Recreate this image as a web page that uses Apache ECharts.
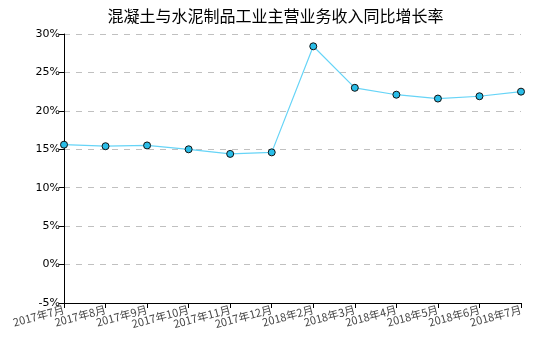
<!DOCTYPE html>
<html>
<head>
<meta charset="utf-8">
<script src="https://cdn.jsdelivr.net/npm/echarts@6/dist/echarts.min.js"></script>
<style>
  html, body { margin: 0; padding: 0; background: #fff; }
  #main { width: 551px; height: 351px; }
</style>
</head>
<body>
<div id="main"></div>
<script>
// 月份
var months = ['2017年7月', '2017年8月', '2017年9月', '2017年10月', '2017年11月', '2017年12月',
    '2018年2月', '2018年3月', '2018年4月', '2018年5月', '2018年6月', '2018年7月'];
// 同比增长率 (%)
var growth = [15.6, 15.4, 15.5, 15.0, 14.4, 14.6, 28.4, 23.0, 22.1, 21.6, 21.9, 22.5];
var yTicks = { min: -5, max: 30, interval: 5 };

var chart = echarts.init(document.getElementById('main'));
var option = {
    backgroundColor: '#fff',
    animation: false,
    title: {
        text: '混凝土与水泥制品工业主营业务收入同比增长率',
        left: 'center',
        top: 3,
        textStyle: { fontSize: 16, fontWeight: 'normal', color: '#000', fontFamily: 'Noto Sans CJK SC' }
    },
    grid: { left: 64, right: 30, top: 34, bottom: 48 },
    xAxis: {
        type: 'category',
        boundaryGap: false,
        data: months,
        axisLine: { onZero: false, lineStyle: { color: '#000', width: 1 } },
        axisTick: { show: true, length: 5, lineStyle: { color: '#000' } },
        axisLabel: {
            rotate: 15,
            interval: 0,
            margin: 6,
            fontSize: 11,
            color: '#444',
            fontFamily: 'Noto Sans CJK SC'
        },
        splitLine: { show: false }
    },
    yAxis: {
        type: 'value',
        min: yTicks.min,
        max: yTicks.max,
        interval: yTicks.interval,
        axisLine: { show: true, lineStyle: { color: '#000', width: 1 } },
        axisTick: { show: true, length: 5, lineStyle: { color: '#000' } },
        axisLabel: {
            formatter: '{value}%',
            margin: 4,
            fontSize: 11,
            color: '#000',
            fontFamily: 'DejaVu Sans'
        },
        splitLine: { show: true, lineStyle: { color: '#c0c0c0', type: [6, 6] } }
    },
    series: [{
        type: 'line',
        data: growth,
        symbol: 'circle',
        symbolSize: 7,
        lineStyle: { color: '#66d4f7', width: 1.2 },
        itemStyle: { color: '#29bde8', borderColor: '#111', borderWidth: 1 }
    }]
};
chart.setOption(option);
</script>
</body>
</html>
